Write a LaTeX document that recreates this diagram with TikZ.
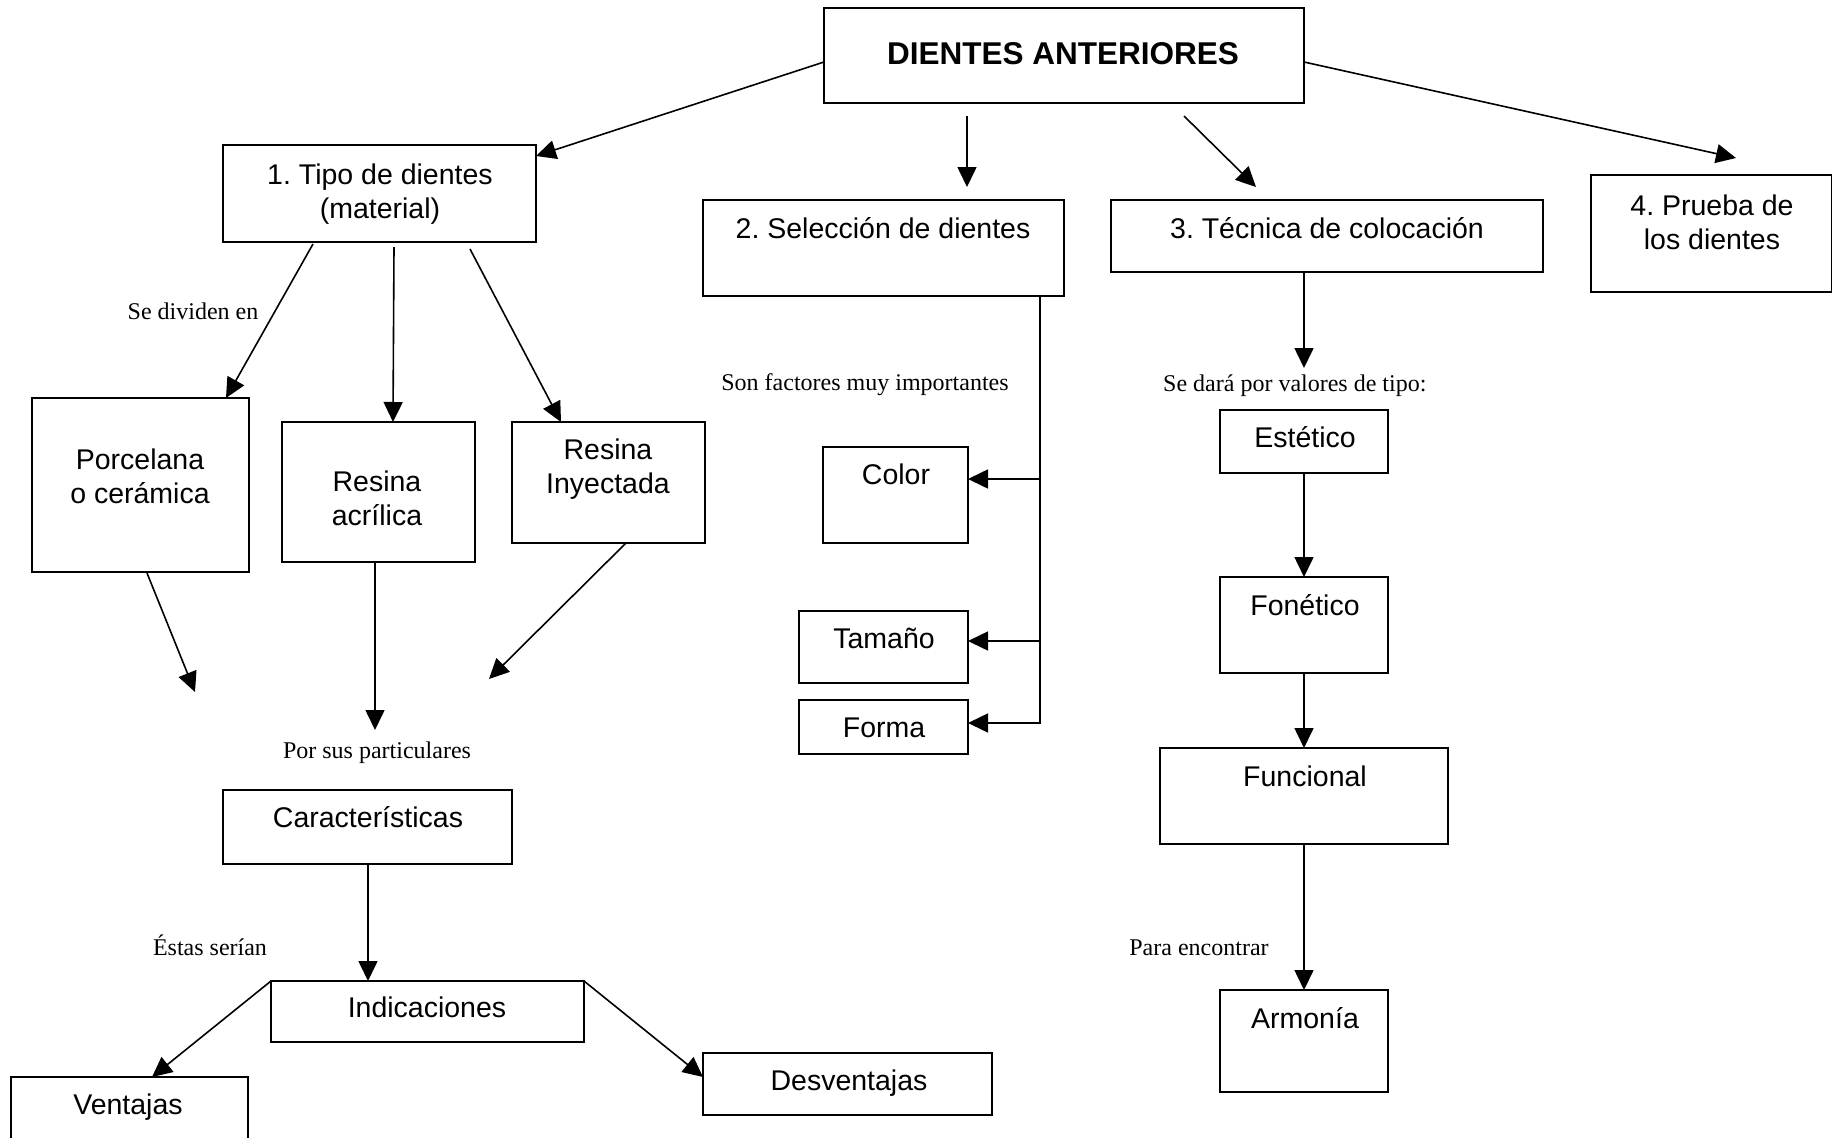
\documentclass[tikz,border=0pt]{standalone}
\usepackage{fontspec}
\setmainfont{Liberation Serif}
\newfontfamily\arialf{Liberation Sans}
\usetikzlibrary{arrows.meta,calc}
\newcommand\bx[5]{\node[box, minimum width=#4pt, minimum height=#5pt] (#1) at (#2,#3) {};}
\frenchspacing
\begin{document}
\begin{tikzpicture}[x=1pt,y=-1pt,
  box/.style={draw, line width=1.8pt, inner sep=0pt, outer sep=0pt, anchor=north west, rectangle},
  txt/.style={font=\arialf\fontsize{28.5}{34}\selectfont, align=center, anchor=base, inner sep=0pt},
  ttl/.style={font=\arialf\bfseries\fontsize{31.5}{36}\selectfont, anchor=base, inner sep=0pt},
  lbl/.style={font=\fontsize{24}{28}\selectfont, anchor=base, inner sep=0pt},
  arr/.style={line width=1.6pt, -{Triangle[length=20pt,width=19pt]}},
  ln/.style={line width=1.6pt}]
\useasboundingbox[fill=white] (0,0) rectangle (1832,1138);
% boxes
\bx{title}{824}{8}{480}{95}
\bx{tipo}{223}{145}{313}{97}
\bx{sel}{703}{200}{361}{96}
\bx{tec}{1111}{200}{432}{72}
\bx{prueba}{1591}{175}{241}{117}
\bx{porc}{32}{398}{217}{174}
\bx{acril}{282}{422}{193}{140}
\bx{inyec}{512}{422}{193}{121}
\bx{color}{823}{447}{145}{96}
\bx{tam}{799}{611}{169}{72}
\bx{forma}{799}{700}{169}{54}
\bx{est}{1220}{410}{168}{63}
\bx{fon}{1220}{577}{168}{96}
\bx{fun}{1160}{748}{288}{96}
\bx{arm}{1220}{990}{168}{102}
\bx{car}{223}{790}{289}{74}
\bx{ind}{271}{981}{313}{61}
\bx{desv}{703}{1053}{289}{62}
\bx{vent}{11}{1077}{237}{64}
% box texts (multi-line: base = last line)
\node[ttl] (t-title) at (1063,64) {DIENTES ANTERIORES};
\node[txt] (t-tipo) at (380,218) {1. Tipo de dientes\\(material)};
\node[txt] (t-sel) at (883,238) {2. Selección de dientes};
\node[txt] (t-tec) at (1327,238) {3. Técnica de colocación};
\node[txt] (t-prueba) at (1712,249) {4. Prueba de\\los dientes};
\node[txt] (t-porc) at (140,503) {Porcelana\\o cerámica};
\node[txt] (t-acril) at (377,525) {Resina\\acrílica};
\node[txt] (t-inyec) at (608,493) {Resina\\Inyectada};
\node[txt] (t-color) at (896,484) {Color};
\node[txt] (t-tam) at (884,648) {Tamaño};
\node[txt] (t-forma) at (884,737) {Forma};
\node[txt] (t-est) at (1305,447) {Estético};
\node[txt] (t-fon) at (1305,615) {Fonético};
\node[txt] (t-fun) at (1305,786) {Funcional};
\node[txt] (t-arm) at (1305,1028) {Armonía};
\node[txt] (t-car) at (368,827) {Características};
\node[txt] (t-ind) at (427,1017) {Indicaciones};
\node[txt] (t-desv) at (849,1090) {Desventajas};
\node[txt] (t-vent) at (128,1114) {Ventajas};
% labels
\node[lbl] (l1) at (193,319) {Se dividen en};
\node[lbl] (l2) at (865,390) {Son factores muy importantes};
\node[lbl, anchor=base west] (l3) at (1163,391) {Se dará por valores de tipo:};
\node[lbl] (l4) at (377,758) {Por sus particulares};
\node[lbl] (l5) at (210,955) {Éstas serían};
\node[lbl] (l6) at (1199,955) {Para encontrar};
% free coordinates
\coordinate (c2) at (967,187);
\coordinate (c3) at (1256,187);
\coordinate (cP) at (195,692);
\coordinate (cA) at (375,730);
\coordinate (cI) at (489,679);
\coordinate (cT) at (1304,368);
% connectors from title
\draw[arr] ([yshift=-54pt]title.north west) -- ([yshift=-11pt]tipo.north east);
\draw[arr] ([xshift=143pt,yshift=-13pt]title.south west) -- (c2);
\draw[arr] ([xshift=360pt,yshift=-13pt]title.south west) -- (c3);
\draw[arr] ([yshift=-54pt]title.north east) -- ([xshift=145pt,yshift=17pt]prueba.north west);
% tipo branches
\draw[arr] ([xshift=90pt,yshift=-2pt]tipo.south west) -- ([xshift=194pt]porc.north west);
\draw[arr] ([xshift=171pt,yshift=-5pt]tipo.south west) -- ([xshift=111pt]acril.north west);
\draw[arr] ([xshift=247pt,yshift=-7pt]tipo.south west) -- ([xshift=49pt]inyec.north west);
% materials down
\draw[arr] ([xshift=115pt,yshift=-1pt]porc.south west) -- (cP);
\draw[arr] ([xshift=93pt]acril.south west) -- (cA);
\draw[arr] ([xshift=114pt]inyec.south west) -- (cI);
% seleccion tree
\coordinate (trunk) at ([xshift=337pt]sel.south west);
\coordinate (colorin) at ([yshift=16pt]color.east);
\coordinate (tamin) at ([yshift=6pt]tam.east);
\coordinate (formain) at ([yshift=4pt]forma.east);
\draw[arr] (trunk) |- (formain);
\draw[arr] (trunk |- colorin) -- (colorin);
\draw[arr] (trunk |- tamin) -- (tamin);
% tecnica chain
\draw[arr] ([xshift=193pt]tec.south west) -- (cT);
\draw[arr] (est.south) -- (fon.north);
\draw[arr] (fon.south) -- (fun.north);
\draw[arr] (fun.south) -- (arm.north);
% caracteristicas chain
\draw[arr] ([xshift=145pt]car.south west) -- ([xshift=97pt]ind.north west);
\draw[arr] (ind.north west) -- ([xshift=141pt]vent.north west);
\draw[arr] (ind.north east) -- ([yshift=-24pt]desv.north west);
\end{tikzpicture}
\end{document}
